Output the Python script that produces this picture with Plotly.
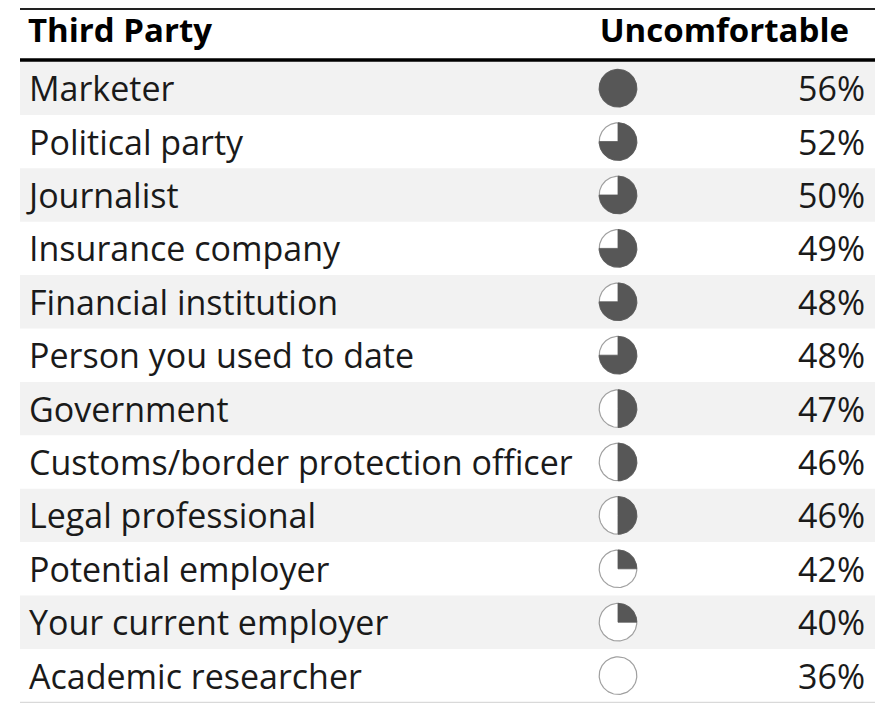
import numpy as np
import plotly.graph_objects as go

# ---- data ----
parties = ["Marketer", "Political party", "Journalist", "Insurance company",
           "Financial institution", "Person you used to date", "Government",
           "Customs/border protection officer", "Legal professional",
           "Potential employer", "Your current employer", "Academic researcher"]
uncomfortable = [56, 52, 50, 49, 48, 48, 47, 46, 46, 42, 40, 36]
ball_quarters = [4, 3, 3, 3, 3, 3, 2, 2, 2, 1, 1, 0]
headers = ["Third Party", "Uncomfortable"]

# ---- geometry/style (screen pixels; page body has an 8px margin) ----
OFF = 8
W, H = 885 - OFF, 704 - OFF
ROW0, ROWH = 61.5, 53.4          # first row top pixel, row height in pixels
LEFT, RIGHT = 20, 875
LABEL_X, PCT_X, BALL_X = 29, 865, 618
R_PX = 18.8
FONT = "Open Sans"
TXT = "#1a1a1a"
DARK = "#575757"
TEXT_DY = 4.5 / ROWH

def px_to_row(p):
    return (p - ROW0) / ROWH - 0.5

n = len(parties)
rows = np.arange(n)
fig = go.Figure()

# Harvey balls
ry = R_PX / ROWH
t = np.linspace(0, 2 * np.pi, 121)
for i, q in enumerate(ball_quarters):
    cx, cy = BALL_X, i
    fig.add_trace(go.Scatter(x=cx + R_PX * np.sin(t), y=cy - ry * np.cos(t),
                             mode="lines", fill="toself", fillcolor="white",
                             line=dict(color="#a0a0a0", width=1.2),
                             hoverinfo="skip", showlegend=False))
    if q > 0:
        th = np.linspace(0, q * np.pi / 2, 30 * q + 1)
        xs = cx + R_PX * np.sin(th)
        ys = cy - ry * np.cos(th)
        if q < 4:
            xs = np.concatenate([[cx], xs, [cx]])
            ys = np.concatenate([[cy], ys, [cy]])
        fig.add_trace(go.Scatter(x=xs, y=ys, mode="lines", fill="toself",
                                 fillcolor=DARK, line=dict(color=DARK, width=0.8),
                                 hoverinfo="skip", showlegend=False))

# Labels
fig.add_trace(go.Scatter(x=[LABEL_X] * n, y=rows + TEXT_DY, mode="text", text=parties,
                         textposition="middle right",
                         textfont=dict(family=FONT, size=34, color=TXT),
                         hoverinfo="skip", showlegend=False))
fig.add_trace(go.Scatter(x=[PCT_X] * n, y=rows + TEXT_DY, mode="text",
                         text=[f"{v}%" for v in uncomfortable],
                         textposition="middle left",
                         textfont=dict(family=FONT, size=34, color=TXT),
                         hoverinfo="skip", showlegend=False))
hy = px_to_row(34)
fig.add_trace(go.Scatter(x=[LABEL_X - 1, 849], y=[hy, hy], mode="text",
                         text=[f"<b>{h}</b>" for h in headers],
                         textposition=["middle right", "middle left"],
                         textfont=dict(family=FONT, size=33, color="black"),
                         hoverinfo="skip", showlegend=False))

shapes = []
for i in range(0, n, 2):
    shapes.append(dict(type="rect", xref="x", yref="y", x0=LEFT, x1=RIGHT,
                       y0=i - 0.5, y1=i + 0.5, fillcolor="#f2f2f2",
                       line=dict(width=0), layer="below"))
shapes.append(dict(type="line", xref="x", yref="y", x0=LEFT, x1=RIGHT,
                   y0=px_to_row(9), y1=px_to_row(9), line=dict(color="#222", width=2)))
shapes.append(dict(type="line", xref="x", yref="y", x0=LEFT, x1=RIGHT,
                   y0=px_to_row(60), y1=px_to_row(60),
                   line=dict(color="black", width=3.5)))
shapes.append(dict(type="line", xref="x", yref="y", x0=LEFT, x1=RIGHT,
                   y0=n - 0.5, y1=n - 0.5, line=dict(color="#d0d0d0", width=1)))

fig.update_layout(
    width=W, height=H, margin=dict(l=0, r=0, t=0, b=0),
    paper_bgcolor="white", plot_bgcolor="white", shapes=shapes,
    xaxis=dict(range=[OFF, OFF + W], visible=False, fixedrange=True),
    yaxis=dict(range=[px_to_row(OFF + H), px_to_row(OFF)], visible=False,
               fixedrange=True),
)
fig.write_html("out.html")
